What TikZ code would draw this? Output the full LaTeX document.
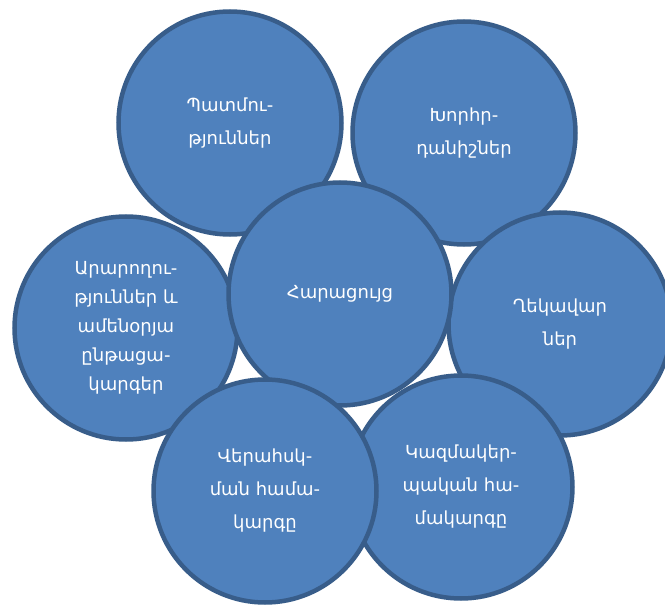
\documentclass[tikz,border=0pt]{standalone}
\usepackage{fontspec}
\newfontfamily\armfont{DejaVu Sans}
\definecolor{circfill}{RGB}{79, 129, 189}
\definecolor{circline}{RGB}{56, 93, 138}
\usepackage{tikz}
\usetikzlibrary{positioning}

\begin{document}
\begin{tikzpicture}[
  x=1pt, y=-1pt,
  circ/.style={circle, draw=circline, fill=circfill, line width=4.5pt, minimum size=223pt, inner sep=0pt, align=center, text=white, font=\armfont\fontsize{18}{33}\selectfont}
]
  \useasboundingbox (0,0) rectangle (665,607);
  \node[circ] (hist) at (230,123) {Պատմու-\\թյուններ};
  \node[circ] (symb) at (464,133) {Խորհր-\\դանիշներ};
  \node[circ, font=\armfont\fontsize{18}{29}\selectfont] (ritual) at (126,328) {Արարողու-\\թյուններ և\\ամենօրյա\\ընթացա-\\կարգեր};
  \node[circ] (lead) at (560,324) {Ղեկավար\\ներ};
  \node[circ] (core) at (340,294) {Հարացույց};
  \node[circ] (org) at (461,487) {Կազմակեր-\\պական հա-\\մակարգը};
  \node[circ] (ctrl) at (265,491) {Վերահսկ-\\ման համա-\\կարգը};
\end{tikzpicture}
\end{document}
